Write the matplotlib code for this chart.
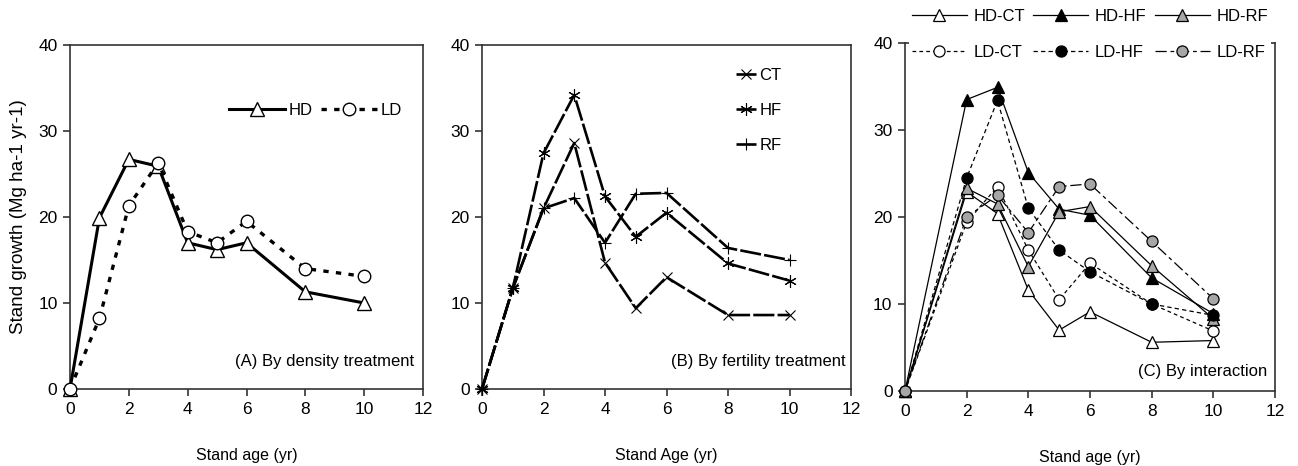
import numpy as np
import matplotlib
matplotlib.use("Agg")
import matplotlib.pyplot as plt

plt.rcParams["font.family"] = ["Liberation Sans", "DejaVu Sans"]
plt.rcParams["font.size"] = 12

# Stand age (yr)
age_a = [0, 1, 2, 3, 4, 5, 6, 8, 10]
age_b = [0, 1, 2, 3, 4, 5, 6, 8, 10]
age_c = [0, 2, 3, 4, 5, 6, 8, 10]

# (A) density treatment, Mg ha-1 yr-1
hd = [0, 19.9, 26.7, 25.9, 17.0, 16.2, 17.0, 11.3, 10.0]
ld = [0, 8.2, 21.3, 26.3, 18.3, 17.0, 19.5, 14.0, 13.1]

# (B) fertility treatment
ct = [0, 11.7, 21.0, 28.6, 14.7, 9.4, 13.0, 8.6, 8.6]
hf = [0, 11.7, 27.4, 34.2, 22.4, 17.7, 20.5, 14.6, 12.6]
rf = [0, 11.7, 21.0, 22.2, 17.0, 22.7, 22.8, 16.4, 15.0]

# (C) density x fertility interaction
hd_ct = [0, 22.9, 20.4, 11.6, 7.0, 9.1, 5.6, 5.8]
hd_hf = [0, 33.5, 34.9, 25.1, 20.9, 20.2, 13.0, 8.9]
hd_rf = [0, 23.3, 21.5, 14.3, 20.6, 21.2, 14.4, 8.3]
ld_ct = [0, 19.4, 23.5, 16.2, 10.5, 14.7, 10.0, 6.9]
ld_hf = [0, 24.5, 33.4, 21.0, 16.2, 13.7, 10.0, 8.7]
ld_rf = [0, 20.0, 22.5, 18.2, 23.5, 23.8, 17.2, 10.6]

W, H = 1298, 466
fig = plt.figure(figsize=(W / 100, H / 100), dpi=100)


def add_axes(x0, x1, y_top, y_bot):
    return fig.add_axes([x0 / W, 1 - y_bot / H, (x1 - x0) / W, (y_bot - y_top) / H])


def style(ax, xlabel):
    ax.set_xlim(0, 12)
    ax.set_ylim(0, 40)
    ax.set_xticks(range(0, 13, 2))
    ax.set_yticks(range(0, 41, 10))
    for s in ax.spines.values():
        s.set_color("#333333")
        s.set_linewidth(1.2)
    ax.tick_params(direction="out", length=5, width=1.2, color="#333333",
                   labelsize=12.5, pad=4)
    ax.set_xlabel(xlabel, fontsize=11.5, labelpad=23)


ax_a = add_axes(70, 423, 45, 389)
ax_b = add_axes(482, 851, 45, 389)
ax_c = add_axes(905, 1275, 43, 391)

# (A)
ax_a.plot(age_a, hd, color="black", lw=2.2, marker="^", ms=10, mfc="white",
          mec="black", mew=1, label="HD", clip_on=False, zorder=3)
ax_a.plot(age_a, ld, color="black", lw=2.4, ls=(0, (1.6, 2.2)), marker="o",
          ms=9, mfc="white", mec="black", mew=1, label="LD", clip_on=False,
          zorder=3)
style(ax_a, "Stand age (yr)")
ax_a.set_ylabel("Stand growth (Mg ha-1 yr-1)", fontsize=13.5, labelpad=8)
ax_a.legend(loc="center", bbox_to_anchor=(0.695, 0.811), ncol=2, frameon=False,
            handlelength=3.4, handletextpad=0.2, columnspacing=0.5,
            borderaxespad=0)
ax_a.text(0.975, 0.08, "(A) By density treatment", transform=ax_a.transAxes,
          ha="right", va="center", fontsize=12)

# (B)
dash_b = (0, (8, 1.2))
ax_b.plot(age_b, ct, color="black", lw=1.9, ls=dash_b, marker="x", ms=7.5,
          mew=0.8, label="CT", clip_on=False, zorder=3)
ax_b.plot(age_b, hf, color="black", lw=1.9, ls=dash_b, marker=(6, 2, 0), ms=9,
          mew=0.8, label="HF", clip_on=False, zorder=3)
ax_b.plot(age_b, rf, color="black", lw=1.9, ls=dash_b, marker="+", ms=9,
          mew=0.8, label="RF", clip_on=False, zorder=3)
style(ax_b, "Stand Age (yr)")
ax_b.legend(loc="center", bbox_to_anchor=(0.75, 0.811), frameon=False,
            handlelength=1.2, handletextpad=0.2, labelspacing=1.2,
            borderaxespad=0)
ax_b.text(0.985, 0.08, "(B) By fertility treatment", transform=ax_b.transAxes,
          ha="right", va="center", fontsize=12)

# (C)
lw_c = 0.9
ax_c.plot(age_c, hd_ct, color="black", lw=lw_c, marker="^", ms=9, mfc="white",
          mec="black", mew=0.9, label="HD-CT", clip_on=False, zorder=3)
ax_c.plot(age_c, hd_hf, color="black", lw=lw_c, marker="^", ms=9, mfc="black",
          mec="black", mew=0.9, label="HD-HF", clip_on=False, zorder=3)
ax_c.plot(age_c, hd_rf, color="black", lw=lw_c, marker="^", ms=9, mfc="#a6a6a6",
          mec="black", mew=0.9, label="HD-RF", clip_on=False, zorder=3)
ax_c.plot(age_c, ld_ct, color="black", lw=lw_c, ls=(0, (3, 2.5)), marker="o",
          ms=8, mfc="white", mec="black", mew=0.9, label="LD-CT", clip_on=False,
          zorder=3)
ax_c.plot(age_c, ld_hf, color="black", lw=lw_c, ls=(0, (3.5, 2.5)), marker="o",
          ms=8, mfc="black", mec="black", mew=0.9, label="LD-HF", clip_on=False,
          zorder=3)
ax_c.plot(age_c, ld_rf, color="black", lw=lw_c, ls=(0, (9, 3, 3, 3)), marker="o",
          ms=8, mfc="#a6a6a6", mec="black", mew=0.9, label="LD-RF",
          clip_on=False, zorder=3)
style(ax_c, "Stand age (yr)")
handles, labels = ax_c.get_legend_handles_labels()
order = [0, 3, 1, 4, 2, 5]
leg = ax_c.legend([handles[i] for i in order], [labels[i] for i in order],
                  loc="upper center", bbox_to_anchor=(0.5, 1.106), ncol=3,
                  frameon=True, facecolor="white", edgecolor="none",
                  framealpha=1, fancybox=False, handlelength=3.3,
                  handletextpad=0.4, columnspacing=0.5, labelspacing=1.3,
                  borderpad=0.15, borderaxespad=0)
leg.set_zorder(5)
ax_c.text(0.98, 0.055, "(C) By interaction", transform=ax_c.transAxes,
          ha="right", va="center", fontsize=12)

fig.savefig("out.png", dpi=100)
